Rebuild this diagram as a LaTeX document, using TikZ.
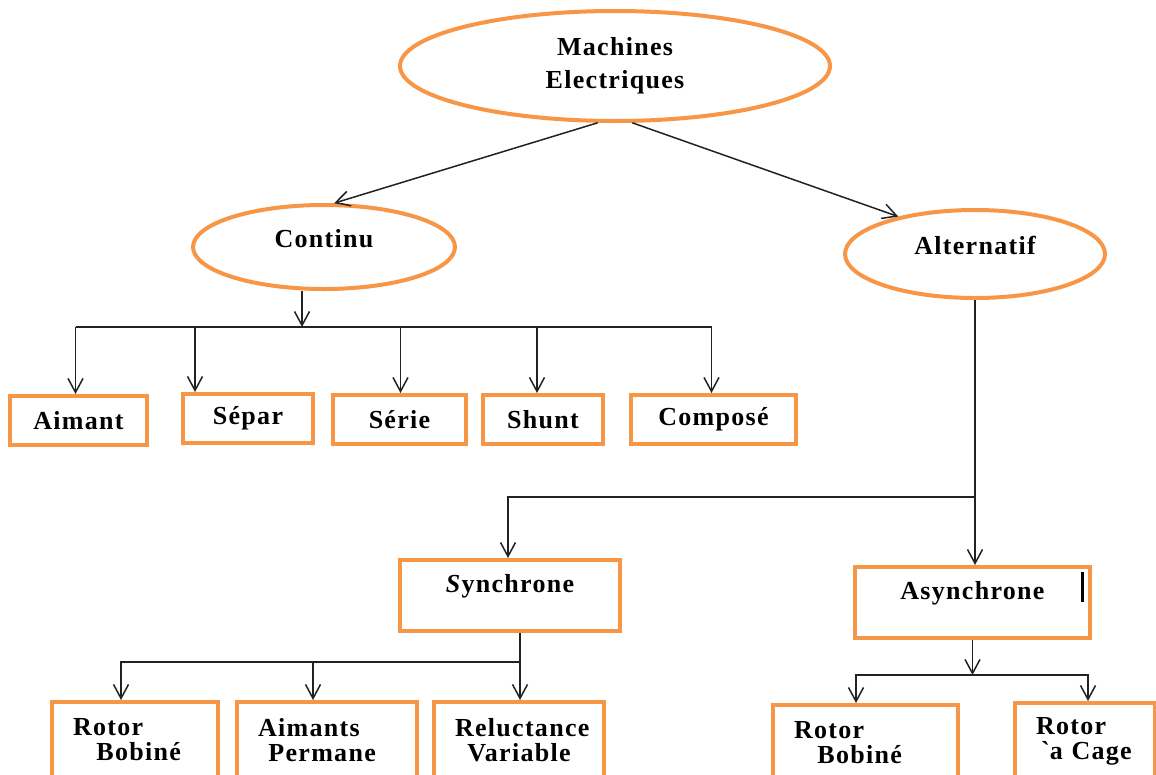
\documentclass[tikz,border=0pt]{standalone}
\usepackage{fontspec}
\setmainfont{Liberation Serif}[LetterSpace=5]
\usetikzlibrary{positioning,arrows.meta,shapes.geometric}
\definecolor{frameOrange}{HTML}{F79646}
\definecolor{linkInk}{HTML}{222222}

\begin{document}
\begin{tikzpicture}[x=1pt, y=-1pt, >={Straight Barb[length=14pt,width=15pt]},
  every node/.style={font=\fontsize{26}{25}\selectfont\bfseries},
  familynode/.style={ellipse, draw=frameOrange, line width=4pt, inner sep=0pt, align=center},
  typebox/.style={rectangle, draw=frameOrange, line width=4pt, inner sep=0pt, align=center},
  leafbox/.style={typebox, inner xsep=21pt, minimum height=76, text width=#1, align=left},
  link/.style={draw=linkInk, line width=1.5pt}]
  \useasboundingbox (0,0) rectangle (1156,774);
  \clip (0,0) rectangle (1156,774);

  % families
  \node[familynode, minimum width=430, minimum height=110, font=\fontsize{26}{33}\selectfont\bfseries] (machines) at (615,66) {Machines\\Electriques};
  \node[familynode, minimum width=262, minimum height=84] (continu) at (324,247) {Continu\\[-8pt]};
  \node[familynode, minimum width=260, minimum height=88] (alternatif) at (975,254) {Alternatif\\[-8pt]};

  % continu kinds
  \node[typebox, minimum width=137, minimum height=49] (aimant) at (78.5,420.5) {Aimant};
  \node[typebox, minimum width=130, minimum height=49] (separ) at (248,418.5) {Sépar};
  \node[typebox, minimum width=133, minimum height=49] (serie) at (399.5,419.5) {Série};
  \node[typebox, minimum width=120, minimum height=49] (shunt) at (543,419.5) {Shunt};
  \node[typebox, minimum width=165, minimum height=49] (compose) at (713.5,419.5) {Composé};

  % alternatif kinds
  \node[typebox, minimum width=220, minimum height=71] (synchrone) at (510,595.5) {\textit{S}ynchrone\\\mbox{}};
  \node[typebox, minimum width=235, minimum height=71] (asynchrone) at (972.5,602.5) {Asynchrone\\\mbox{}};
  \draw[line width=3pt] (1082,572) -- (1082,602);

  % rotors
  \node[leafbox=124] (rotorbob) at (135,740) {Rotor\\\hspace*{0.9em}Bobiné};
  \node[leafbox=138] (aimants) at (327,740) {Aimants\\\hspace*{0.4em}Permane};
  \node[leafbox=128, align=center] (reluctance) at (519,740) {Reluctance\\Variable};
  \node[leafbox=143] (rotorbobA) at (865.5,743) {Rotor\\\hspace*{0.9em}Bobiné};
  \node[leafbox=98] (rotorcage) at (1085,741) {Rotor\\\hspace*{0.2em}\textasciigrave a Cage};

  % links
  \coordinate (cbus) at (302,327);
  \coordinate (abus) at (975,497);
  \coordinate (sbus) at (520,662);
  \coordinate (qbus) at (972.5,675);

  \draw[link, ->] (machines.253) -- (continu.77);
  \draw[link, ->] (machines.287) -- (alternatif.154);

  \draw[link, ->] (cbus |- continu.south) -- (cbus);
  \draw[link] ([xshift=-3pt]aimant.north |- cbus) -- ([xshift=-2pt]compose.north |- cbus);
  \foreach \kind/\dx in {aimant/-3, separ/-53, serie/1, shunt/-6, compose/-2}
    \draw[link, ->] ([xshift=\dx pt]\kind.north |- cbus) -- ([xshift=\dx pt]\kind.north);

  \draw[link] (alternatif.south) -- (abus);
  \draw[link, ->] (abus) -- (abus |- asynchrone.north);
  \draw[link, ->] (abus) -| ([xshift=-2pt]synchrone.north);

  \draw[link] ([xshift=10pt]synchrone.south) -- (sbus);
  \draw[link, ->] (sbus) -| ([xshift=-14pt]rotorbob.north);
  \draw[link, ->] (sbus) -| ([xshift=-14pt]aimants.north);
  \draw[link, ->] (sbus) -- (sbus |- reluctance.north);

  \draw[link, ->] (asynchrone.south) -- (qbus);
  \draw[link, ->] (qbus) -| ([xshift=-9.5pt]rotorbobA.north);
  \draw[link, ->] (qbus) -| ([xshift=3pt]rotorcage.north);
\end{tikzpicture}
\end{document}
